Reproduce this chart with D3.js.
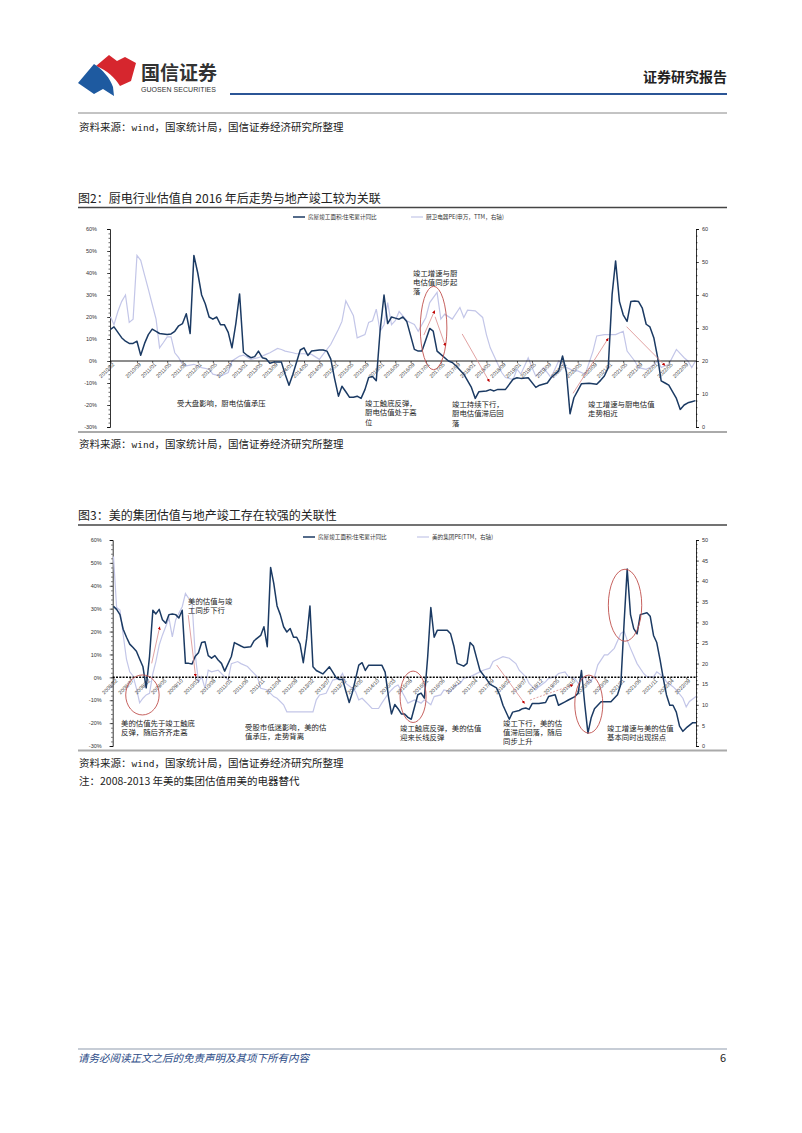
<!DOCTYPE html>
<html>
<head>
<meta charset="utf-8">
<script src="https://cdn.jsdelivr.net/npm/d3@7"></script>
<style>
  body { margin: 0; background: #fff; }
  svg { display: block; font-family: "Noto Sans CJK SC", "Noto Sans", sans-serif; }
</style>
</head>
<body>
<svg id="page" width="802" height="1133"></svg>
<script>
// ---------- data: chart 1 (厨电) ----------
const c1DoneDates = [
  "2010-02","2010-03","2010-05","2010-06","2010-07","2010-08","2010-09","2010-10","2010-11","2010-12",
  "2011-01","2011-02","2011-03","2011-05","2011-06","2011-07","2011-08","2011-09","2011-10","2011-11","2011-12",
  "2012-01","2012-02","2012-03","2012-04","2012-05","2012-06","2012-07","2012-08","2012-09","2012-10","2012-11","2012-12",
  "2013-01","2013-02","2013-03","2013-04","2013-05","2013-06","2013-07","2013-08","2013-09","2013-11","2013-12",
  "2014-01","2014-02","2014-04","2014-05","2014-06","2014-07","2014-09","2014-10","2014-11","2014-12",
  "2015-01","2015-02","2015-03","2015-04","2015-05","2015-06","2015-07","2015-08","2015-09","2015-10","2015-11","2015-12",
  "2016-01","2016-02","2016-03","2016-04","2016-05","2016-06","2016-07","2016-08","2016-10","2016-11","2016-12",
  "2017-02","2017-03","2017-04","2017-05","2017-07","2017-08","2017-09","2017-11",
  "2018-01","2018-02","2018-03","2018-05","2018-06","2018-07","2018-08","2018-10","2018-12",
  "2019-01","2019-02","2019-04","2019-06","2019-07","2019-09","2019-10","2019-12",
  "2020-01","2020-02","2020-03","2020-04","2020-05","2020-06","2020-08","2020-10","2020-11","2020-12",
  "2021-01","2021-02","2021-03","2021-04","2021-05","2021-06","2021-07","2021-08","2021-09","2021-10","2021-11","2021-12",
  "2022-01","2022-02","2022-03","2022-04","2022-05","2022-06","2022-07","2022-08","2022-09","2022-10","2022-11","2022-12"
];
const c1DoneVals = [
  14.4, 15.5, 10.6, 9, 8, 8, 9, 2.6, 8, 12,
  14.5, 13.5, 12.5, 12, 12.3, 13.5, 16, 17, 21.5, 12.5, 48,
  40, 30, 26, 20, 19, 20, 16.5, 16.5, 13, 6, 17, 30.5,
  4, 2.5, 1.5, 2, 4.5, 1.5, 1, -1, -0.5, -0.5, -6,
  -11, -6, 5, 6, 2.5, 4.5, 5, 5, 4.5, 1,
  -8, -16, -11.5, -14, -16.5, -16.5, -16, -17, -13, -7.5, -7, -9,
  14, 30, 17, 20, 19.5, 19, 20, 18, 5.3, 4.5, 4.5,
  14.8, 13.6, 4.5, 3, 0, -0.7, -2.3, -6,
  -12, -17, -14, -13.6, -13, -13.6, -12.9, -12.9, -8.3,
  -7.6, -7.9, -7.6, -12, -11, -10, -7.6, -4.5,
  2.3, -5, -24, -16.7, -13.6, -10.3, -10.1, -10.6, -8.8, -6.8,
  -3, 30.3, 45.5, 27, 21, 18, 27, 27.3, 27, 24, 16.7, 15.5,
  10.6, 1.5, -9, -10, -11, -14, -17, -22, -20, -19, -18.5, -18
];
const c1PeDates = [
  "2010-02","2010-03","2010-04","2010-05","2010-06","2010-07","2010-08","2010-09","2010-10","2010-11","2010-12",
  "2011-01","2011-02","2011-03","2011-04","2011-05","2011-06","2011-07","2011-08","2011-09","2011-10","2011-12",
  "2012-02","2012-04","2012-05","2012-07","2012-09","2012-10","2012-12",
  "2013-01","2013-03","2013-05","2013-07","2013-08","2013-10","2013-11","2013-12",
  "2014-02","2014-03","2014-05","2014-07","2014-09","2014-10","2014-12",
  "2015-02","2015-03","2015-04","2015-06","2015-07","2015-09","2015-10","2015-11","2015-12",
  "2016-01","2016-02","2016-03","2016-04","2016-05","2016-06","2016-08","2016-10","2016-11",
  "2017-01","2017-02","2017-04","2017-05","2017-06","2017-08","2017-10","2017-11","2017-12",
  "2018-02","2018-04","2018-05","2018-06","2018-08","2018-09","2018-10","2018-12",
  "2019-01","2019-02","2019-04","2019-05","2019-06","2019-08","2019-09","2019-10","2019-12",
  "2020-02","2020-04","2020-05","2020-07","2020-09","2020-10","2020-12",
  "2021-01","2021-03","2021-05","2021-06","2021-08","2021-09","2021-11","2021-12",
  "2022-02","2022-03","2022-05","2022-07","2022-09","2022-10","2022-11","2022-12"
];
const c1PeVals = [
  33.4, 31, 35, 38, 40, 31.7, 32.7, 52, 50.5, 46, 41.8,
  37.2, 32.7, 24, 25.6, 27.3, 27.3, 22.5, 21, 19, 18.5, 19,
  18, 17.5, 16, 15.4, 16.5, 20, 21.5,
  21.8, 20.5, 21, 22, 22.5, 23.8, 23.5, 23,
  22.5, 22.2, 22.2, 22, 20.5, 22, 25,
  29.6, 32, 38.2, 33.7, 27, 28, 31.7, 32.2, 35.7,
  29, 31, 37.7, 31, 32.2, 35, 32.2, 31.1, 29,
  33.2, 37.7, 40.8, 32.7, 34.2, 32.7, 36.2, 33.2, 35.4,
  35.2, 33.2, 28, 24, 19, 16.5, 15, 14.4,
  17.5, 16, 21, 18, 15.4, 18, 16.5, 15, 20,
  18, 17, 17, 16, 23, 27.6, 28,
  28, 28, 29, 23, 20, 18, 17.5, 18,
  20, 18, 19, 23.5, 21, 20, 18, 20
];
const c1Ticks = [
  "2010/02","2010/09","2011/01","2011/05","2011/09","2012/01","2012/05","2012/09","2013/01","2013/05","2013/09",
  "2014/01","2014/05","2014/09","2015/01","2015/05","2015/09","2016/01","2016/05","2016/09","2017/01","2017/05",
  "2017/09","2018/01","2018/05","2018/09","2019/01","2019/05","2019/09","2020/01","2020/05","2020/09","2021/01",
  "2021/05","2021/09","2022/01","2022/05","2022/09"
];

// ---------- data: chart 2 (美的) ----------
const c2DoneDates = [
  "2008-02","2008-03","2008-04","2008-05","2008-06","2008-07","2008-08","2008-09","2008-10","2008-11","2008-12",
  "2009-01","2009-02","2009-03","2009-04","2009-05","2009-06","2009-07","2009-08","2009-09","2009-10","2009-11","2009-12",
  "2010-01","2010-02","2010-03","2010-04","2010-05","2010-06","2010-07","2010-08","2010-09","2010-10","2010-11","2010-12",
  "2011-02","2011-03","2011-05","2011-06","2011-08","2011-09","2011-11","2011-12",
  "2012-01","2012-02","2012-03","2012-04","2012-05","2012-06","2012-07","2012-08","2012-09","2012-10","2012-11","2012-12",
  "2013-01","2013-02","2013-03","2013-04","2013-06","2013-07","2013-08","2013-09","2013-10","2013-11","2013-12",
  "2014-01","2014-02","2014-03","2014-05","2014-06","2014-07","2014-08","2014-10","2014-12",
  "2015-01","2015-02","2015-03","2015-04","2015-05","2015-06","2015-07","2015-08","2015-09","2015-11","2015-12",
  "2016-01","2016-02","2016-03","2016-04","2016-05","2016-07","2016-08","2016-09","2016-10","2016-11",
  "2017-01","2017-02","2017-03","2017-04","2017-05","2017-06","2017-08","2017-09","2017-11","2017-12",
  "2018-01","2018-03","2018-04","2018-06","2018-07","2018-08","2018-09","2018-10","2018-12",
  "2019-02","2019-03","2019-05","2019-06","2019-08","2019-09","2019-11","2019-12",
  "2020-01","2020-02","2020-03","2020-04","2020-05","2020-07","2020-08","2020-10","2020-12",
  "2021-01","2021-02","2021-03","2021-04","2021-05","2021-06","2021-07","2021-09","2021-10","2021-11","2021-12",
  "2022-01","2022-02","2022-03","2022-04","2022-05","2022-06","2022-07","2022-08","2022-09","2022-11","2022-12"
];
const c2DoneVals = [
  31, 29.7, 27.4, 21, 17.5, 14.5, 13, 11.4, 8, 4.6, -4.6,
  9.1, 29.3, 27.7, 29.7, 25.2, 23.6, 27.4, 27.7, 27.4, 25.9, 29.3, 6.1,
  6.1, 5.8, 9.1, 10.7, 15.2, 15.5, 9.5, 8.4, 9.5, 7.6, 6.1, 2.7,
  9.1, 15.2, 13.7, 13, 13.4, 16, 18.3, 22.1,
  13.4, 48, 41.2, 31.2, 27.4, 22.1, 19.8, 21.3, 17.5, 17.5, 14.5, 6.4,
  16.8, 31.2, 4.6, 3, 1.5, 3, 4.6, 2.3, 0, -1, -0.8,
  -6.1, -11, -6.9, 5.3, 6.4, 3, 5.3, 5.3, 5.3,
  2.3, -8.4, -16, -11.9, -13.7, -16, -16, -17.5, -18.3, -7.6, -6.9,
  -9.1, 9.1, 30.5, 17.5, 20.6, 20.6, 20.6, 19, 13.7, 6.1,
  4.9, 6.1, 15.2, 13.7, 8.4, 3, -0.8, -3, -4.6, -7.6,
  -12.2, -18.3, -15.2, -14.5, -13.7, -13.4, -14, -11.4, -11.4,
  -11, -8.4, -7.6, -12.2, -10.7, -9.9, -8.4, -6.9,
  3, -12, -24.4, -17.5, -13.7, -10.7, -10.7, -10.7, -7.6,
  -3, 24.4, 47.3, 27.4, 21.3, 19, 27.4, 28.2, 26.7, 18.3, 15.2,
  7.6, -0.8, -7.6, -12.2, -12.2, -15.2, -21.3, -23.6, -22.1, -19.8, -19.8
];
const c2PeDates = [
  "2008-02","2008-03","2008-04","2008-05","2008-06","2008-07","2008-08","2008-09","2008-10","2008-11","2008-12",
  "2009-01","2009-02","2009-03","2009-04","2009-05","2009-06","2009-07","2009-08","2009-09","2009-10","2009-11","2009-12",
  "2010-01","2010-02","2010-03","2010-04","2010-05","2010-06","2010-07","2010-08","2010-10","2010-11",
  "2011-01","2011-02","2011-04","2011-05","2011-07","2011-08","2011-10","2011-11",
  "2012-01","2012-03","2012-04","2012-06","2012-07","2012-10","2012-12",
  "2013-03","2013-04","2013-05","2013-07","2013-09","2013-11","2013-12",
  "2014-01","2014-03","2014-04","2014-05","2014-06","2014-08","2014-09","2014-11","2014-12",
  "2015-02","2015-03","2015-04","2015-05","2015-07","2015-08","2015-10","2015-12",
  "2016-01","2016-03","2016-04","2016-06","2016-07","2016-09","2016-10","2016-12",
  "2017-01","2017-03","2017-04","2017-06","2017-07","2017-09","2017-10","2017-12",
  "2018-01","2018-03","2018-05","2018-06","2018-08","2018-09","2018-11","2018-12",
  "2019-02","2019-03","2019-05","2019-06","2019-08","2019-09","2019-11","2019-12",
  "2020-01","2020-02","2020-03","2020-05","2020-06","2020-08","2020-09","2020-11",
  "2021-01","2021-02","2021-03","2021-04","2021-06","2021-08","2021-09","2021-11","2021-12",
  "2022-02","2022-03","2022-05","2022-06","2022-08","2022-09","2022-10","2022-12"
];
const c2PeVals = [
  46, 33.6, 33, 27, 21, 18, 17, 14, 10.5, 11.6, 12.4,
  12.8, 17.6, 20.5, 24.5, 26.9, 29, 31, 26.5, 30.6, 32.2, 33.8, 37,
  35.8, 34.6, 22.5, 15.6, 16.8, 14, 18.4, 18, 18.4, 17.6,
  16, 20, 20.5, 20, 19.3, 18.4, 16.8, 14,
  13.6, 12, 11.6, 10, 8.3, 8.3, 8.3,
  8.3, 11.2, 12.4, 12.8, 16, 16.4, 17.6,
  15.2, 14, 13.2, 11.2, 11.6, 10, 9.1, 9.1, 10.4,
  12.8, 13.6, 14.4, 14.8, 12, 10.4, 11.2, 10.4,
  11.2, 10, 12, 12.4, 13.6, 13.2, 14.4, 15.2,
  16.4, 16.8, 17.2, 18, 18.4, 18.9, 20.5, 21.3,
  21.7, 21.3, 20, 18.4, 16.8, 15.2, 13.6, 14.4,
  15.6, 16.4, 16.8, 17.6, 18, 16.8, 16.4, 15.2,
  16, 16.8, 15.2, 16.8, 19.7, 22.1, 22.1, 23.7,
  27.3, 27.8, 25.7, 23.7, 20, 17.6, 16.8, 16.8, 18,
  16.8, 15.6, 14.4, 13.6, 11.6, 9.5, 10.8, 12
];
const c2Ticks = [
  "2008/02","2008/07","2008/12","2009/05","2009/10","2010/03","2010/08","2011/01","2011/06","2011/11","2012/04",
  "2012/09","2013/02","2013/07","2013/12","2014/05","2014/10","2015/03","2015/08","2016/01","2016/06","2016/11",
  "2017/04","2017/09","2018/02","2018/07","2018/12","2019/05","2019/10","2020/03","2020/08","2021/01","2021/06",
  "2021/11","2022/04","2022/09"
];

const leftTicks = [-30, -20, -10, 0, 10, 20, 30, 40, 50, 60];
const c1RightTicks = [0, 10, 20, 30, 40, 50, 60];
const c2RightTicks = [0, 5, 10, 15, 20, 25, 30, 35, 40, 45, 50];

// arrows / circles drawn at data positions (date, left-axis %)
const c1Arrows = [
  ["2016-12-16", 11.8, "2017-03-13", 22.9],
  ["2017-03-16", 20.1, "2017-06-07", 6.8],
  ["2017-10-19", 12.3, "2018-05-25", -9.4],
  ["2020-03-25", -14.7, "2021-01-01", 10.3],
  ["2021-05-28", 15.6, "2022-04-01", -2.1]
];
const c1Rings = [["2017-03-04", 15, 13.3, 41.7]];
const c2Arrows = [
  ["2009-01-21", 6.1, "2009-04-06", 22.1, false],
  ["2009-12-27", 27.2, "2010-03-06", 0.3, false],
  ["2017-11-03", 5.4, "2018-07-21", -11.4, false],
  ["2018-09-09", -9.9, "2019-10-15", -3.3, true]
];
const c2Rings = [
  ["2008-10-27", -7.7, 16.7, 20],
  ["2015-09-18", -8.5, 13, 25.7],
  ["2020-03-09", -11.7, 14, 29],
  ["2021-02-09", 31.5, 16.7, 36]
];

const DARK = "#1b3a63", LIGHT = "#c3c6e8", RED = "#c0504d";
const pM = d3.timeParse("%Y-%m"), pD = d3.timeParse("%Y-%m-%d"), pT = d3.timeParse("%Y/%m");
const svg = d3.select("#page");

// marker
svg.append("defs").append("marker")
  .attr("id", "ah").attr("viewBox", "0 0 10 10").attr("refX", 9).attr("refY", 5)
  .attr("markerWidth", 4).attr("markerHeight", 4).attr("orient", "auto")
  .append("path").attr("d", "M0,0L10,5L0,10Z").attr("fill", "#c00000");

// ---------- header ----------
const hd = svg.append("g");
hd.append("path").attr("d", "M96,66 L109,55 L117,61 L125,57 L136,63 L131,81 L120,86 C115,78 107,70 96,66 Z").attr("fill", "#d6262e");
hd.append("path").attr("d", "M78,83 L94,64 C103,70 110,78 113,87 L114,96 L103,89 L94,94 Z").attr("fill", "#1e5aa0");
hd.append("text").attr("x", 141).attr("y", 80).attr("font-size", 19).attr("font-weight", 700).attr("fill", "#333")
  .attr("textLength", 76).text("国信证券");
hd.append("text").attr("x", 141).attr("y", 92).attr("font-size", 7).attr("fill", "#333")
  .attr("font-family", "Liberation Sans").attr("textLength", 75).text("GUOSEN SECURITIES");
hd.append("text").attr("x", 727).attr("y", 82).attr("text-anchor", "end").attr("font-size", 14).attr("font-weight", 700)
  .attr("fill", "#222").text("证券研究报告");
hd.append("rect").attr("x", 230).attr("y", 93).attr("width", 497).attr("height", 2).attr("fill", "#2b5596");
hd.append("line").attr("x1", 78).attr("x2", 727).attr("y1", 113).attr("y2", 113).attr("stroke", "#888").attr("stroke-width", 1);

function source(y) {
  const t = svg.append("text").attr("x", 79).attr("y", y).attr("dy", "0.35em").attr("font-size", 10.5).attr("fill", "#222");
  t.append("tspan").text("资料来源：");
  t.append("tspan").attr("font-family", "DejaVu Sans Mono").attr("font-size", 9.5).text("wind");
  t.append("tspan").text("，国家统计局，国信证券经济研究所整理");
}
source(127);

function titleBlock(y, text, lineY) {
  svg.append("text").attr("x", 78).attr("y", y).attr("dy", "0.35em").attr("font-size", 12).attr("fill", "#222").text(text);
  svg.append("line").attr("x1", 78).attr("x2", 727).attr("y1", lineY).attr("y2", lineY).attr("stroke", "#444").attr("stroke-width", 1.6);
}

function drawChart(cfg) {
  const g = svg.append("g");
  const { x, yL, yR } = cfg;
  const y0 = yL(0);

  // axes
  const la = g.append("g").attr("transform", `translate(${cfg.axL},0)`)
    .call(d3.axisLeft(yL).tickValues(leftTicks).tickSize(3).tickPadding(cfg.padL).tickFormat(d => d + "%"));
  g.append("g").attr("transform", `translate(${cfg.axL},0)`)
    .call(d3.axisLeft(yL).tickValues(d3.range(-30, 61, 2)).tickSize(1.5).tickFormat(""))
    .select(".domain").remove();
  const ra = g.append("g").attr("transform", `translate(${cfg.axR},0)`)
    .call(d3.axisRight(yR).tickValues(cfg.rTicks).tickSize(3).tickPadding(3));
  g.append("g").attr("transform", `translate(${cfg.axR},0)`)
    .call(d3.axisRight(yR).tickValues(d3.range(0, cfg.rMax + 0.1, cfg.rMinor)).tickSize(1.5).tickFormat(""))
    .select(".domain").remove();
  g.selectAll(".tick line").attr("stroke", "#000").attr("stroke-width", 0.6);
  g.selectAll(".domain").attr("stroke", "#000").attr("stroke-width", 0.8);
  [la, ra].forEach(a => a.attr("font-size", 5.5).attr("font-family", "Liberation Sans").selectAll("text").attr("fill", "#333"));

  // series
  const line = (yS) => d3.line().x(d => x(d[0])).y(d => yS(d[1]));
  const lightPts = d3.zip(cfg.light[0].map(pM), cfg.light[1]);
  const darkPts = d3.zip(cfg.dark[0].map(pM), cfg.dark[1]);
  g.append("path").datum(lightPts).attr("d", line(yR)).attr("fill", "none").attr("stroke", LIGHT).attr("stroke-width", 1.2);

  // zero line and date labels
  g.append("line").attr("x1", cfg.axL).attr("x2", cfg.axR).attr("y1", y0).attr("y2", y0)
    .attr("stroke", "#000").attr("stroke-width", cfg.dashed ? 1.5 : 0.9)
    .attr("stroke-dasharray", cfg.dashed ? "2,1.3" : null);
  const xa2 = g.append("g").attr("transform", `translate(0,${y0})`)
    .call(d3.axisBottom(x).tickValues(cfg.ticks.map(pT)).tickSize(2).tickFormat(d3.timeFormat("%Y/%m")));
  xa2.select(".domain").remove();
  xa2.attr("font-size", 5.3).attr("font-family", "Liberation Sans");
  xa2.selectAll(".tick line").attr("stroke", "#000").attr("stroke-width", 0.6);
  xa2.selectAll("text").attr("x", 0).attr("y", 3.6).attr("dy", "0.35em").attr("transform", "rotate(-45)")
    .style("text-anchor", "end").attr("fill", "#333");

  g.append("path").datum(darkPts).attr("d", line(yL)).attr("fill", "none").attr("stroke", DARK).attr("stroke-width", 1.5)
    .attr("stroke-linejoin", "round");

  // rings and arrows
  cfg.rings.forEach(r => {
    g.append("ellipse").attr("cx", x(pD(r[0]))).attr("cy", yL(r[1])).attr("rx", r[2]).attr("ry", r[3])
      .attr("fill", "none").attr("stroke", RED).attr("stroke-width", 0.9);
  });
  cfg.arrows.forEach(a => {
    g.append("line").attr("x1", x(pD(a[0]))).attr("y1", yL(a[1])).attr("x2", x(pD(a[2]))).attr("y2", yL(a[3]))
      .attr("stroke", "#d98a8a").attr("stroke-width", 0.8).attr("stroke-dasharray", a[4] ? "2,1.5" : null)
      .attr("marker-end", "url(#ah)");
  });

  // legend
  const lg = g.append("g").attr("font-size", 5.6).attr("fill", "#333");
  lg.append("line").attr("x1", cfg.leg[0]).attr("x2", cfg.leg[0] + 12).attr("y1", cfg.legY).attr("y2", cfg.legY).attr("stroke", DARK).attr("stroke-width", 1.5);
  lg.append("text").attr("x", cfg.leg[0] + 15).attr("y", cfg.legY).attr("dy", "0.35em").text("房屋竣工面积:住宅累计同比");
  lg.append("line").attr("x1", cfg.leg[1]).attr("x2", cfg.leg[1] + 12).attr("y1", cfg.legY).attr("y2", cfg.legY).attr("stroke", LIGHT).attr("stroke-width", 1.2);
  lg.append("text").attr("x", cfg.leg[1] + 15).attr("y", cfg.legY).attr("dy", "0.35em").text(cfg.lightName);

  // notes
  cfg.notes.forEach(n => {
    n.lines.forEach((s, i) => {
      g.append("text").attr("x", n.x).attr("y", n.y + i * n.gap).attr("dy", "0.35em")
        .attr("font-size", 7.4).attr("fill", "#222").text(s);
    });
  });
}

// ---------- chart 1 ----------
titleBlock(199, "图2：厨电行业估值自 2016 年后走势与地产竣工较为关联", 207.5);
drawChart({
  x: d3.scaleTime().domain([pM("2010-02"), pM("2022-12")]).range([110.5, 695.5]),
  yL: d3.scaleLinear().domain([-30, 60]).range([427, 229]),
  yR: d3.scaleLinear().domain([0, 60]).range([427, 229]),
  axL: 110, axR: 696, padL: 10, rTicks: c1RightTicks, rMax: 60, rMinor: 2,
  dark: [c1DoneDates, c1DoneVals], light: [c1PeDates, c1PeVals], ticks: c1Ticks, dashed: false,
  rings: c1Rings, arrows: c1Arrows,
  leg: [293, 411], legY: 217, lightName: "厨卫电器PE(申万，TTM，右轴)",
  notes: [
    { x: 177, y: 403, gap: 9.5, lines: ["受大盘影响，厨电估值承压"] },
    { x: 365, y: 403, gap: 9.5, lines: ["竣工触底反弹，", "厨电估值处于高", "位"] },
    { x: 413, y: 273, gap: 9, lines: ["竣工增速与厨", "电估值同步起", "落"] },
    { x: 452, y: 404, gap: 9.5, lines: ["竣工持续下行，", "厨电估值滞后回", "落"] },
    { x: 588, y: 404, gap: 9.5, lines: ["竣工增速与厨电估值", "走势相近"] }
  ]
});
svg.append("line").attr("x1", 78).attr("x2", 727).attr("y1", 432).attr("y2", 432).attr("stroke", "#aaa").attr("stroke-width", 2);
source(444);

// ---------- chart 2 ----------
titleBlock(516, "图3：美的集团估值与地产竣工存在较强的关联性", 525);
drawChart({
  x: d3.scaleTime().domain([pM("2008-02"), pM("2022-12")]).range([113.5, 696]),
  yL: d3.scaleLinear().domain([-30, 60]).range([746, 540]),
  yR: d3.scaleLinear().domain([0, 50]).range([746, 540]),
  axL: 112.7, axR: 696, padL: 8, rTicks: c2RightTicks, rMax: 50, rMinor: 1,
  dark: [c2DoneDates, c2DoneVals], light: [c2PeDates, c2PeVals], ticks: c2Ticks, dashed: true,
  rings: c2Rings, arrows: c2Arrows,
  leg: [303, 417], legY: 537, lightName: "美的集团PE(TTM，右轴)",
  notes: [
    { x: 188, y: 601, gap: 9, lines: ["美的估值与竣", "工同步下行"] },
    { x: 121, y: 723, gap: 9.5, lines: ["美的估值先于竣工触底", "反弹，随后齐齐走高"] },
    { x: 245, y: 727, gap: 9.5, lines: ["受股市低迷影响，美的估", "值承压，走势背离"] },
    { x: 400, y: 728, gap: 9.3, lines: ["竣工触底反弹，美的估值", "迎来长线反弹"] },
    { x: 503, y: 723, gap: 9.3, lines: ["竣工下行，美的估", "值滞后回落，随后", "同步上升"] },
    { x: 607, y: 728, gap: 9.3, lines: ["竣工增速与美的估值", "基本同时出现拐点"] }
  ]
});
svg.append("line").attr("x1", 78).attr("x2", 727).attr("y1", 750.5).attr("y2", 750.5).attr("stroke", "#aaa").attr("stroke-width", 2);
source(763);
svg.append("text").attr("x", 79).attr("y", 781).attr("dy", "0.35em").attr("font-size", 10.5).attr("fill", "#222")
  .text("注：2008-2013 年美的集团估值用美的电器替代");

// ---------- footer ----------
svg.append("line").attr("x1", 78).attr("x2", 727).attr("y1", 1049).attr("y2", 1049).attr("stroke", "#b5bcc8").attr("stroke-width", 1.5);
svg.append("text").attr("x", 78).attr("y", 1058).attr("dy", "0.35em").attr("font-size", 10.5).attr("font-style", "italic")
  .attr("fill", "#2a4a86").text("请务必阅读正文之后的免责声明及其项下所有内容");
svg.append("text").attr("x", 726).attr("y", 1058).attr("dy", "0.35em").attr("text-anchor", "end").attr("font-size", 11)
  .attr("fill", "#222").text("6");
</script>
</body>
</html>
